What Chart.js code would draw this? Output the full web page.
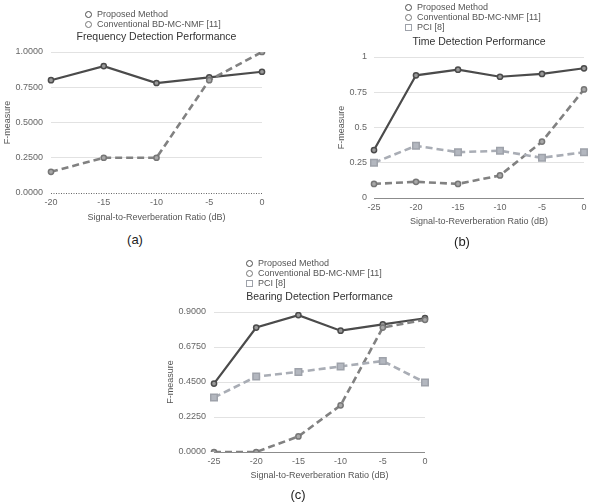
<!DOCTYPE html>
<html>
<head>
<meta charset="utf-8">
<script src="https://cdn.jsdelivr.net/npm/chart.js@4.4.1/dist/chart.umd.min.js"></script>
<style>
  html, body { margin: 0; padding: 0; background: #ffffff; }
  #wrap { position: relative; width: 591px; height: 502px; overflow: hidden; background: #fff; font-family: "Liberation Sans", Arial, sans-serif; }
  canvas { position: absolute; }
  .leg { position: absolute; font-size: 9px; color: #555; line-height: 10px; white-space: nowrap; }
  .leg span.mk { position: absolute; box-sizing: border-box; }
  .cap { position: absolute; font-size: 13px; color: #222; transform: translate(-50%, -50%); line-height: 1; }
</style>
</head>
<body>
<div id="wrap">
  <canvas id="cA" width="295" height="230" style="left:0px;top:0px;width:295px;height:230px"></canvas>
  <canvas id="cB" width="296" height="235" style="left:295px;top:0px;width:296px;height:235px"></canvas>
  <canvas id="cC" width="280" height="240" style="left:160px;top:250px;width:280px;height:240px"></canvas>
</div>
<script>
// ---------------- DATA ----------------
const seriesNames = ['Proposed Method', 'Conventional BD-MC-NMF [11]', 'PCI [8]'];
const xTitle = 'Signal-to-Reverberation Ratio (dB)';
const yTitle = 'F-measure';
const captions = ['(a)', '(b)', '(c)'];
const chartTitles = ['Frequency Detection Performance', 'Time Detection Performance', 'Bearing Detection Performance'];

// (a) Frequency detection
const snrA = ['-20', '-15', '-10', '-5', '0'];
const proposedA = [0.80, 0.90, 0.78, 0.82, 0.86];
const conventionalA = [0.15, 0.25, 0.25, 0.80, 1.00];
const yTicksA = [0, 0.25, 0.5, 0.75, 1.0];

// (b) Time detection
const snrB = ['-25', '-20', '-15', '-10', '-5', '0'];
const proposedB = [0.34, 0.87, 0.91, 0.86, 0.88, 0.92];
const conventionalB = [0.10, 0.115, 0.10, 0.16, 0.40, 0.77];
const pciB = [0.25, 0.37, 0.325, 0.335, 0.285, 0.325];
const yTicksB = [0, 0.25, 0.5, 0.75, 1];

// (c) Bearing detection
const snrC = ['-25', '-20', '-15', '-10', '-5', '0'];
const proposedC = [0.44, 0.80, 0.88, 0.78, 0.82, 0.86];
const conventionalC = [0.00, 0.00, 0.10, 0.30, 0.80, 0.85];
const pciC = [0.35, 0.485, 0.515, 0.55, 0.585, 0.447];
const yTicksC = [0, 0.225, 0.45, 0.675, 0.9];

// ---------------- STYLES ----------------
const FONT = '"Liberation Sans", Arial, sans-serif';
const styles = [
  { line: '#4b4b4b', pb: '#4b4b4b', pf: '#9a9a9a', dash: [], width: 2.2, ps: 'circle', pr: 2.6, leg: 'circle' },
  { line: '#818181', pb: '#767676', pf: '#a8a8a8', dash: [7, 4], width: 2.6, ps: 'circle', pr: 2.6, leg: 'circle' },
  { line: '#a9adb5', pb: '#9ea2aa', pf: '#b3b7bf', dash: [7, 4], width: 2.6, ps: 'rect', pr: 4.6, leg: 'rect' }
];

function makeDatasets(seriesList) {
  return seriesList.map((vals, i) => ({
    label: seriesNames[i],
    data: vals,
    borderColor: styles[i].line,
    borderWidth: styles[i].width,
    borderDash: styles[i].dash,
    pointStyle: styles[i].ps,
    pointRadius: styles[i].pr,
    pointBorderWidth: 1.5,
    pointBorderColor: styles[i].pb,
    pointBackgroundColor: styles[i].pf,
    fill: false,
    tension: 0,
    order: seriesList.length - i
  }));
}

const dottedZero = {
  id: 'dottedZero',
  beforeDatasetsDraw(chart, args, opts) {
    if (!opts || !opts.enabled) return;
    const y = chart.scales.y.getPixelForValue(0);
    const ctx = chart.ctx;
    ctx.save();
    ctx.strokeStyle = '#666';
    ctx.lineWidth = 1;
    ctx.setLineDash([1, 1.5]);
    ctx.beginPath();
    ctx.moveTo(chart.chartArea.left, Math.round(y) + 0.5);
    ctx.lineTo(chart.chartArea.right, Math.round(y) + 0.5);
    ctx.stroke();
    ctx.restore();
  }
};

function build(id, cfg) {
  const tickVals = cfg.ticks;
  return new Chart(document.getElementById(id), {
    type: 'line',
    data: { labels: cfg.labels, datasets: makeDatasets(cfg.series) },
    plugins: [dottedZero],
    options: {
      responsive: false,
      animation: false,
      events: [],
      layout: { padding: cfg.pad },
      plugins: {
        legend: { display: false },
        tooltip: { enabled: false },
        dottedZero: { enabled: cfg.dotted },
        title: {
          display: true,
          text: cfg.title,
          fullSize: false,
          color: '#333',
          font: { family: FONT, size: 10.5, weight: 'normal', lineHeight: 1.2 },
          padding: { top: cfg.titleTop, bottom: cfg.titleBottom }
        }
      },
      scales: {
        x: {
          type: 'category',
          offset: false,
          grid: { display: false, drawTicks: false },
          border: { display: false },
          ticks: { color: '#666', font: { family: FONT, size: 9 }, padding: 4, maxRotation: 0, autoSkip: false },
          title: { display: true, text: xTitle, color: '#555', font: { family: FONT, size: 9 }, padding: { top: 0, bottom: 2 } },
          afterFit(s) { s.height = cfg.xh; }
        },
        y: {
          min: tickVals[0],
          max: tickVals[tickVals.length - 1],
          afterBuildTicks(s) { s.ticks = tickVals.map(v => ({ value: v })); },
          grid: {
            drawTicks: false,
            lineWidth: 1,
            color: (c) => (c.tick && c.tick.value === 0) ? (cfg.dotted ? 'rgba(0,0,0,0)' : '#8c8c8c') : '#e2e2e2'
          },
          border: { display: false },
          ticks: {
            color: '#666',
            font: { family: FONT, size: 9 },
            padding: cfg.ytp,
            callback: cfg.fmt
          },
          title: { display: true, text: yTitle, color: '#555', font: { family: FONT, size: 9 }, padding: { top: 0, bottom: 0 } },
          afterFit(s) { s.width = cfg.yw; }
        }
      }
    }
  });
}

const fmt4 = (v) => Number(v).toFixed(4);
const fmtPlain = (v) => String(Number(v));

build('cA', {
  labels: snrA, series: [proposedA, conventionalA], ticks: yTicksA, title: chartTitles[0],
  pad: { left: 2, right: 33, top: 0, bottom: 5 }, yw: 49, xh: 32, ytp: 8,
  titleTop: 30.7, titleBottom: 8.7, dotted: true, fmt: fmt4
});
build('cB', {
  labels: snrB, series: [proposedB, conventionalB, pciB], ticks: yTicksB, title: chartTitles[1],
  pad: { left: 41, right: 7, top: 0, bottom: 6 }, yw: 38, xh: 31, ytp: 7,
  titleTop: 35.7, titleBottom: 8.7, dotted: false, fmt: fmtPlain
});
build('cC', {
  labels: snrC, series: [proposedC, conventionalC, pciC], ticks: yTicksC, title: chartTitles[2],
  pad: { left: 5, right: 15, top: 0, bottom: 7 }, yw: 49, xh: 31, ytp: 8,
  titleTop: 40.7, titleBottom: 8.7, dotted: false, fmt: fmt4
});

// ---------------- LEGENDS & CAPTIONS (HTML text) ----------------
const wrap = document.getElementById('wrap');
function legend(x, y0, count) {
  for (let i = 0; i < count; i++) {
    const d = document.createElement('div');
    d.className = 'leg';
    d.style.left = (x + 9) + 'px';
    d.style.top = (y0 + i * 10 - 5) + 'px';
    d.textContent = seriesNames[i];
    wrap.appendChild(d);
    const m = document.createElement('span');
    m.className = 'mk';
    const st = styles[i];
    if (st.leg === 'circle') {
      m.style.cssText = 'position:absolute;box-sizing:border-box;width:7px;height:7px;border-radius:50%;border:1.6px solid ' + st.pb + ';background:#fff;left:' + (x - 3.5) + 'px;top:' + (y0 + i * 10 - 3.5) + 'px';
    } else {
      m.style.cssText = 'position:absolute;box-sizing:border-box;width:7px;height:7px;border:1.6px solid ' + st.pb + ';background:#fff;left:' + (x - 3.5) + 'px;top:' + (y0 + i * 10 - 3.5) + 'px';
    }
    wrap.appendChild(m);
  }
}
legend(88, 14, 2);
legend(408, 7, 3);
legend(249, 263, 3);

function caption(t, x, y) {
  const d = document.createElement('div');
  d.className = 'cap';
  d.style.left = x + 'px';
  d.style.top = y + 'px';
  d.textContent = t;
  wrap.appendChild(d);
}
caption(captions[0], 135, 239);
caption(captions[1], 462, 241);
caption(captions[2], 298, 494);
</script>
</body>
</html>
